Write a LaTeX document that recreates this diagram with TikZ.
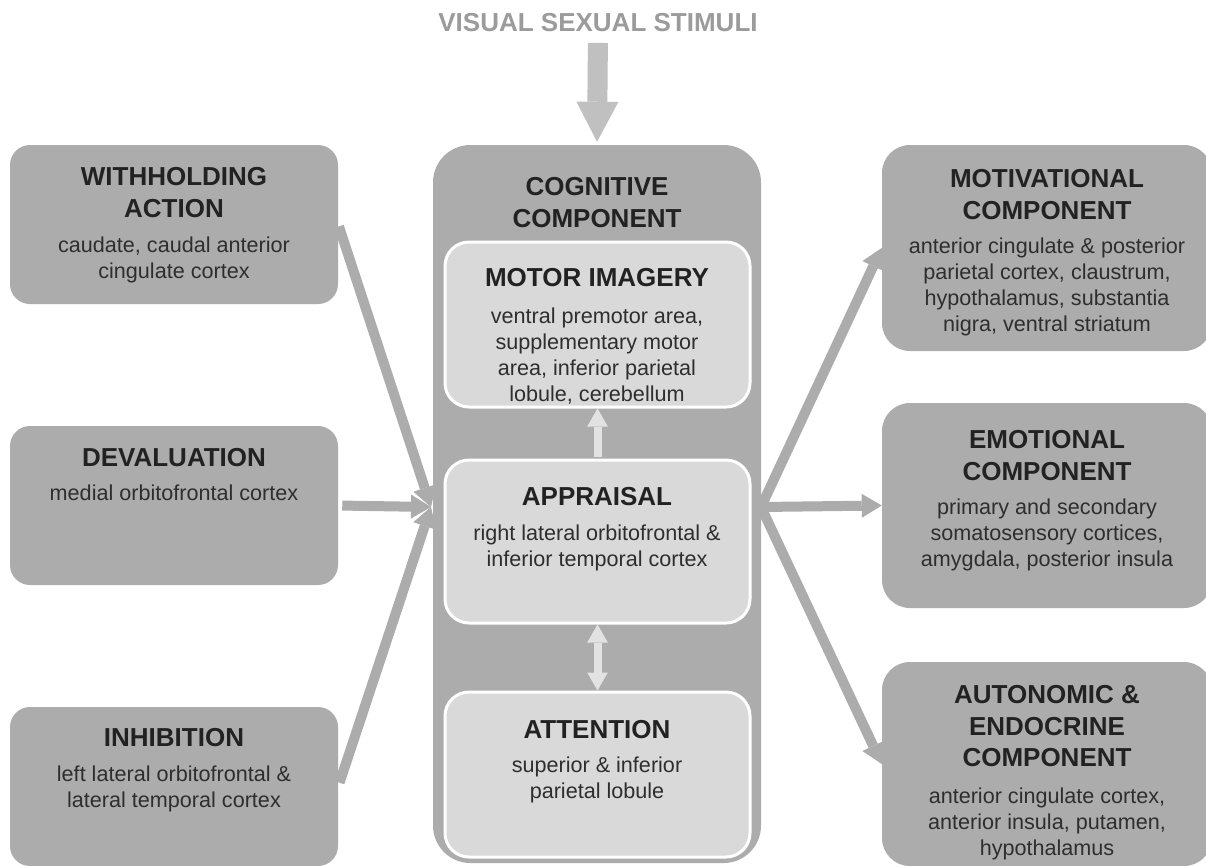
\documentclass[tikz,border=0pt]{standalone}
\usepackage{fontspec}
\setmainfont{Liberation Sans}
\usetikzlibrary{arrows.meta}
\definecolor{boxgray}{HTML}{ACACAC}
\definecolor{innergray}{HTML}{D9D9D9}
\definecolor{topgray}{HTML}{C0C0C0}
\definecolor{toptext}{HTML}{9B9B9B}
\definecolor{inarrow}{HTML}{E2E2E2}
\definecolor{txt}{HTML}{222222}
\definecolor{bodytxt}{HTML}{2E2E2E}
\begin{document}
\begin{tikzpicture}[x=0.75pt,y=-0.75pt,
  leftbox/.style={rectangle, fill=boxgray, draw=none, rounded corners=15pt, inner sep=0,
    minimum width=246pt, minimum height=119.25pt},
  rightbox/.style={rectangle, fill=boxgray, draw=none, rounded corners=21pt, inner sep=0,
    minimum width=247.5pt},
  cogbox/.style={rectangle, fill=boxgray, draw=none, rounded corners=28pt, inner sep=0,
    minimum width=246pt, minimum height=538.5pt},
  innerbox/.style={rectangle, fill=innergray, draw=white, line width=2.25pt, rounded corners=18pt,
    inner sep=0, minimum width=228.75pt},
  ttl/.style={font=\bfseries\fontsize{19.5}{23.8}\selectfont, text=txt, align=center,
    inner sep=0, anchor=north},
  bdy/.style={font=\fontsize{16.2}{19.3}\selectfont, text=bodytxt, align=center,
    inner sep=0, anchor=north},
  conn/.style={draw=boxgray, line width=7.5pt,
    -{Triangle[width=18pt,length=15pt,line width=0pt]}},
  toparr/.style={draw=topgray, line width=15pt,
    -{Triangle[width=31.5pt,length=30pt,line width=0pt]}},
  inarr/.style={draw=inarrow, line width=6pt,
    -{Triangle[width=15.5pt,length=13.5pt,line width=0pt]}},
  inarrboth/.style={draw=inarrow, line width=6pt,
    {Triangle[width=15.5pt,length=13.5pt,line width=0pt]}-{Triangle[width=15.5pt,length=13.5pt,line width=0pt]}}
]
\fill[white] (0,0) rectangle (1206,865);
\useasboundingbox (0,0) rectangle (1206,865);

% top stimulus
\node[ttl, text=toptext] (vss) at (598,13) {VISUAL SEXUAL STIMULI};

% left boxes
\node[leftbox] (w) at (174,224.5) {};
\node[leftbox] (d) at (174,505.5) {};
\node[leftbox] (i) at (174,786.5) {};
\node[ttl] (wt) at (174,167) {WITHHOLDING\\ACTION};
\node[bdy] (wb) at (174,237) {caudate, caudal anterior\\cingulate cortex};
\node[ttl] (dt) at (174,448) {DEVALUATION};
\node[bdy] (db) at (174,485) {medial orbitofrontal cortex};
\node[ttl] (it) at (174,728) {INHIBITION};
\node[bdy] (ib) at (174,766) {left lateral orbitofrontal \&\\lateral temporal cortex};

% cognitive component
\node[cogbox] (cog) at (597,504) {};
\node[ttl] (cogt) at (597,177) {COGNITIVE\\COMPONENT};
\node[innerbox, minimum height=123.75pt] (mot) at (597.5,324.5) {};
\node[innerbox, minimum height=122.25pt] (app) at (597.5,541.5) {};
\node[innerbox, minimum height=123.75pt] (att) at (597.5,774.5) {};
\node[ttl] (mott) at (597,268) {MOTOR IMAGERY};
\node[bdy] (motb) at (597,308) {ventral premotor area,\\supplementary motor\\area, inferior parietal\\lobule, cerebellum};
\node[ttl] (appt) at (597,487) {APPRAISAL};
\node[bdy] (appb) at (597,525) {right lateral orbitofrontal \&\\inferior temporal cortex};
\node[ttl] (attt) at (597,720) {ATTENTION};
\node[bdy] (attb) at (597,757) {superior \& inferior\\parietal lobule};

% right boxes
\node[rightbox, minimum height=154.5pt] (mv) at (1047,248) {};
\node[rightbox, minimum height=153.75pt] (em) at (1047,505.5) {};
\node[rightbox, minimum height=153pt] (au) at (1047,764) {};
\node[ttl] (mvt) at (1047,169) {MOTIVATIONAL\\COMPONENT};
\node[bdy] (mvb) at (1047,238) {anterior cingulate \& posterior\\parietal cortex, claustrum,\\hypothalamus, substantia\\nigra, ventral striatum};
\node[ttl] (emt) at (1047,430) {EMOTIONAL\\COMPONENT};
\node[bdy] (emb) at (1047,499) {primary and secondary\\somatosensory cortices,\\amygdala, posterior insula};
\node[ttl] (aut) at (1047,685) {AUTONOMIC \&\\ENDOCRINE\\COMPONENT};
\node[bdy] (aub) at (1047,788) {anterior cingulate cortex,\\anterior insula, putamen,\\hypothalamus};

% connectors
\coordinate (cl) at (431,507);
\coordinate (cr) at (761,507);
\draw[toparr, shorten <=8.25pt, shorten >=2.25pt] (vss.south) -- (cog.north);
\draw[conn, shorten <=1.5pt] (w.east) -- (cl);
\draw[conn, shorten <=3pt] (d.east) -- (cl);
\draw[conn, shorten <=3pt] (i.east) -- (cl);
\draw[conn] (cr) -- (mv.west);
\draw[conn] (cr) -- (em.west);
\draw[conn] (cr) -- (au.west);
\draw[inarr, shorten <=1pt] (app.north) -- (mot.south);
\draw[inarrboth, shorten <=0pt] (app.south) -- (att.north);
\end{tikzpicture}
\end{document}
